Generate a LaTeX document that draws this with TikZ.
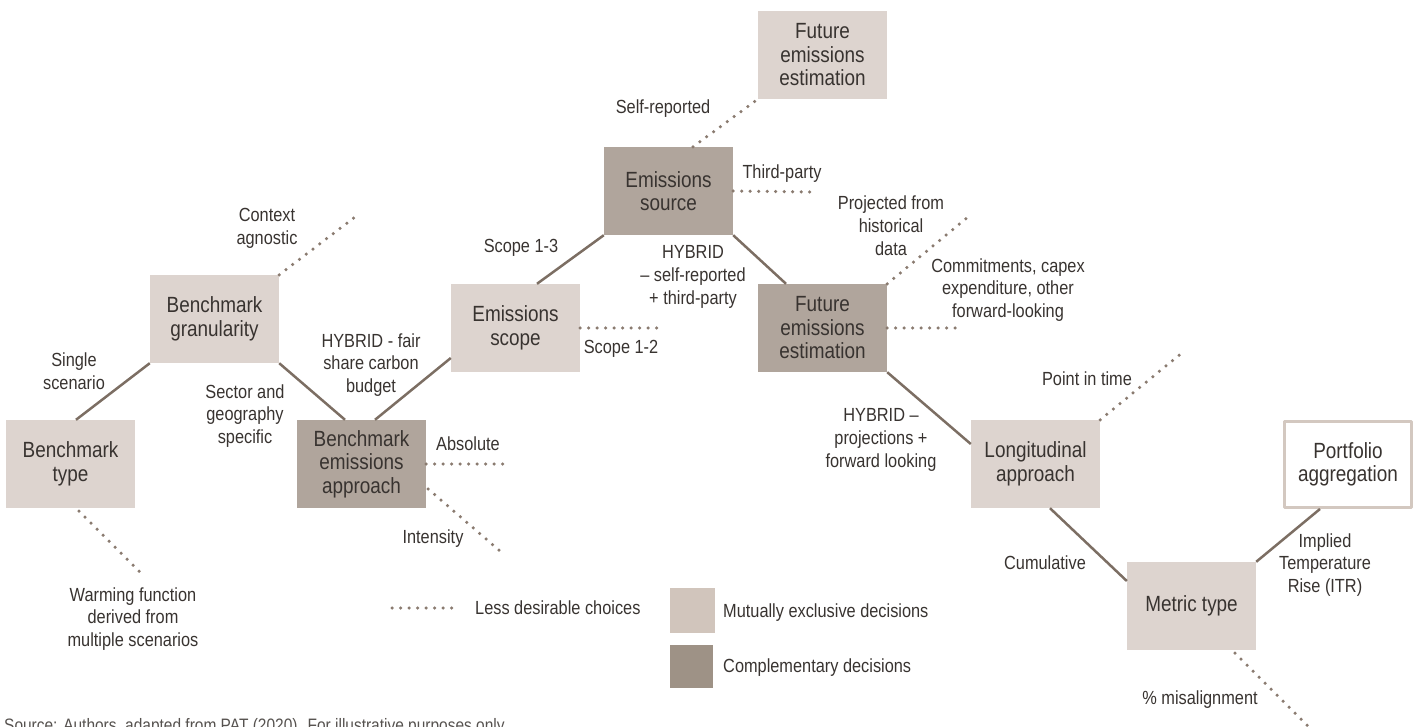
\documentclass[tikz,border=0pt]{standalone}
\usepackage{fontspec}
\setmainfont{Liberation Sans}[FakeStretch=0.86]
\usepackage{tikz}

\begin{document}
\begin{tikzpicture}[x=1pt,y=-1pt,line join=round,
  box/.style={minimum width=129pt,minimum height=88pt,inner sep=2pt,align=center,text=ink,font=\fontsize{22}{23.5}\selectfont},
  mutex/.style={box,fill=mutexfill},
  compl/.style={box,fill=complfill},
  lbl/.style={align=center,text=ink,inner sep=0pt,font=\fontsize{19}{22.8}\selectfont},
  link/.style={draw=linkcol,line width=2.5pt},
  weak/.style={draw=dotcol,line width=3.5pt,line cap=round,dash pattern=on 0pt off 8.5pt},
  keybox/.style={minimum width=45pt,minimum height=45pt,inner sep=0pt}]
\definecolor{ink}{HTML}{383330}
\definecolor{mutexfill}{HTML}{DDD4CF}
\definecolor{complfill}{HTML}{B0A59C}
\definecolor{keylight}{HTML}{D1C5BC}
\definecolor{keydark}{HTML}{9E9286}
\definecolor{portline}{HTML}{D3C8C0}
\definecolor{linkcol}{HTML}{7C6E63}
\definecolor{dotcol}{HTML}{8A7B70}
\useasboundingbox (0,0) rectangle (1417,727);
% decision boxes
\node[mutex] (type) at (70.5,464) {Benchmark\\type};
\node[mutex] (gran) at (214.5,319) {Benchmark\\granularity};
\node[compl] (bea) at (361.5,464) {Benchmark\\emissions\\approach};
\node[mutex] (scope) at (515.5,328) {Emissions\\scope};
\node[compl] (source) at (668.5,191) {Emissions\\source};
\node[mutex] (feetop) at (822.5,55) {Future\\emissions\\estimation};
\node[compl] (fee) at (822.5,328) {Future\\emissions\\estimation};
\node[mutex] (long) at (1035.5,464) {Longitudinal\\approach};
\node[mutex] (metric) at (1191.5,606) {Metric type};
\node[box,draw=portline,line width=3pt,minimum width=127pt,minimum height=86pt] (port) at (1348,464.5) {Portfolio\\aggregation};
% chosen path
\draw[link] ([xshift=5.5pt]type.north) -- (gran.south west);
\draw[link] (gran.south east) -- ([xshift=-16.5pt]bea.north);
\draw[link] ([xshift=13.5pt]bea.north) -- ([yshift=-30pt]scope.west);
\draw[link] ([xshift=21.5pt]scope.north) -- (source.south west);
\draw[link] (source.south east) -- ([xshift=-36.5pt]fee.north);
\draw[link] (fee.south east) -- ([yshift=20pt]long.west);
\draw[link] ([xshift=14.5pt]long.south) -- ([yshift=25pt]metric.west);
\draw[link] (metric.north east) -- ([xshift=-28pt]port.south);
% less desirable branches
\coordinate (ctxend) at (355,217);
\coordinate (warmend) at (143,575);
\coordinate (absend) at (503,464);
\coordinate (intend) at (500,551);
\coordinate (s12end) at (658,328);
\coordinate (thirdend) at (812,192);
\coordinate (projend) at (968,217);
\coordinate (commend) at (963,328);
\coordinate (pointend) at (1183,352);
\coordinate (misend) at (1320,738);
\draw[weak] (gran.north east) -- (ctxend);
\draw[weak] ([xshift=8.5pt,yshift=-3pt]type.south) -- (warmend);
\draw[weak] (bea.east) -- (absend);
\draw[weak] ([xshift=2pt,yshift=-25pt]bea.east) -- (intend);
\draw[weak] (scope.east) -- (s12end);
\draw[weak] ([xshift=24.5pt]source.north) -- (feetop.south west);
\draw[weak] (source.east) -- (thirdend);
\draw[weak] (fee.north east) -- (projend);
\draw[weak] (fee.east) -- (commend);
\draw[weak] (long.north east) -- (pointend);
\draw[weak] ([xshift=43.5pt,yshift=-3pt]metric.south) -- (misend);
% branch labels
\node[lbl] (ctx) at (267,228.5) {Context\\agnostic};
\node[lbl] (single) at (74,371.5) {Single\\scenario};
\node[lbl] (sector) at (245,416) {Sector and\\geography\\specific};
\node[lbl] (fair) at (371,365) {HYBRID - fair\\share carbon\\budget};
\node[lbl] (absolute) at (468,444) {Absolute};
\node[lbl] (intensity) at (433,539) {Intensity};
\node[lbl] (warming) at (133,619) {Warming function\\derived from\\multiple scenarios};
\node[lbl] (scope13) at (521,248) {Scope 1-3};
\node[lbl] (scope12) at (621,349) {Scope 1-2};
\node[lbl] (selfrep) at (663,109) {Self-reported};
\node[lbl] (third) at (782,174) {Third-party};
\node[lbl] (hybsrc) at (693,277) {HYBRID\\– self-reported\\+ third-party};
\node[lbl] (projected) at (891,226) {Projected from\\historical\\data};
\node[lbl] (commit) at (1008,290) {Commitments, capex\\expenditure, other\\forward-looking};
\node[lbl] (hybproj) at (881,440) {HYBRID –\\projections +\\forward looking};
\node[lbl] (point) at (1087,379) {Point in time};
\node[lbl] (cumul) at (1045,563) {Cumulative};
\node[lbl] (itr) at (1325,565) {Implied\\Temperature\\Rise (ITR)};
\node[lbl] (misal) at (1200,700) {\% misalignment};
% key
\coordinate (keyA) at (392,608);
\coordinate (keyB) at (459,608);
\draw[weak] (keyA) -- (keyB);
\node[lbl,anchor=west] (keyweak) at (475,608) {Less desirable choices};
\node[keybox,fill=keylight] (keymutex) at (692.5,610.5) {};
\node[keybox,fill=keydark,minimum width=43pt,minimum height=43pt] (keycompl) at (691.5,666.5) {};
\node[lbl,anchor=west] (keymutextxt) at (723,613) {Mutually exclusive decisions};
\node[lbl,anchor=west] (keycompltxt) at (723,668) {Complementary decisions};
\node[anchor=base west,inner sep=0pt,text=ink!85,font=\fontsize{18}{20}\selectfont] (src) at (4,731) {Source: Authors, adapted from PAT (2020). For illustrative purposes only.};
\end{tikzpicture}
\end{document}
